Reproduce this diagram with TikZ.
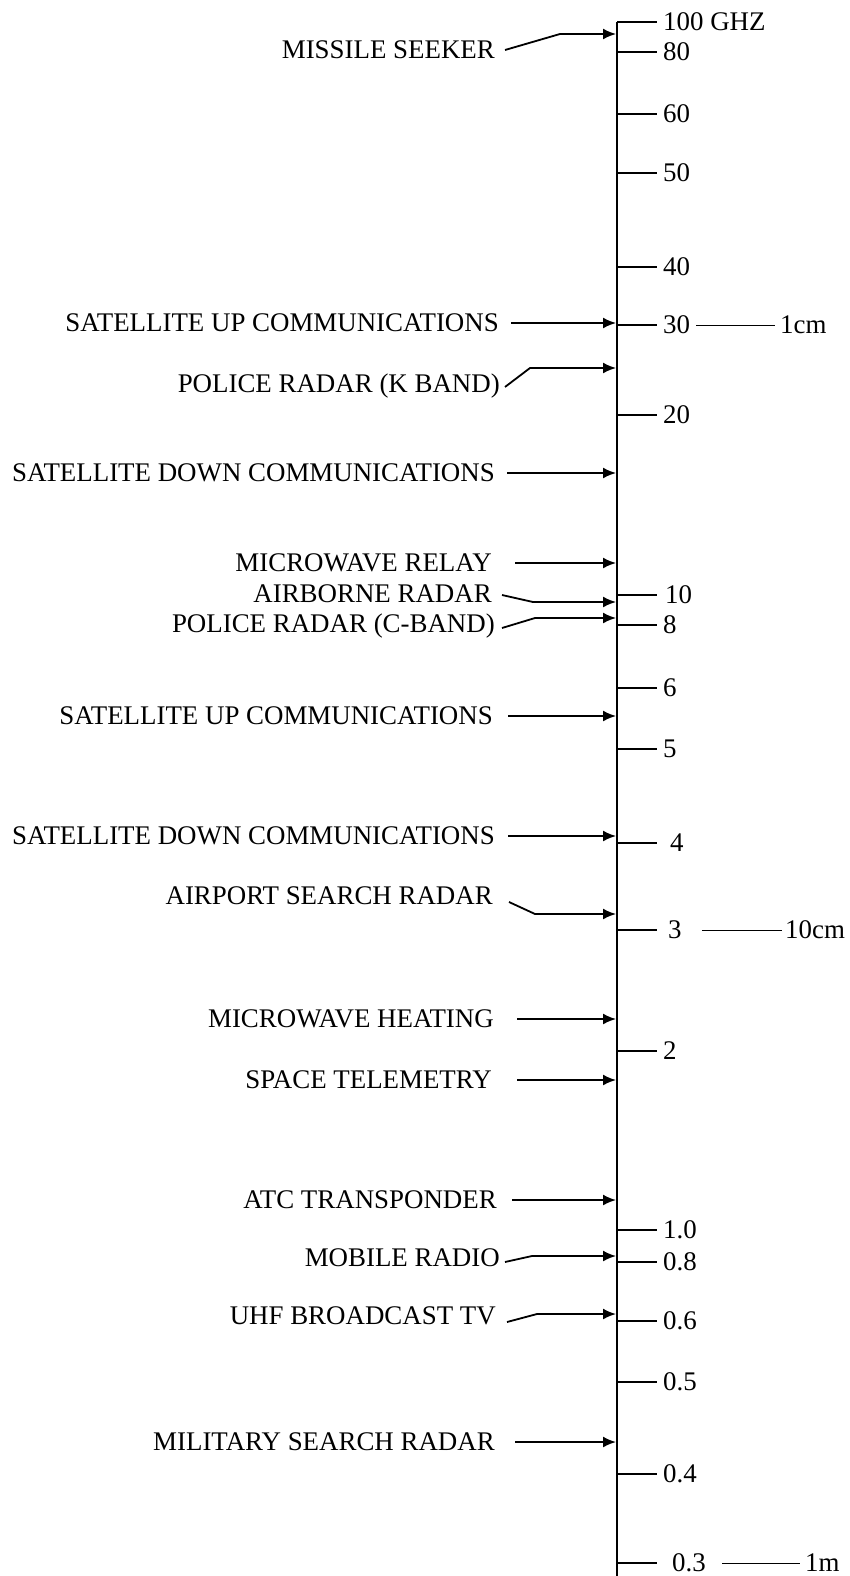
\documentclass[tikz,border=0pt]{standalone}
\usepackage{fontspec}
\setmainfont{Liberation Serif}
\usepackage{tikz}
\usetikzlibrary{arrows.meta}
\usetikzlibrary{positioning}

\begin{document}
\begin{tikzpicture}[
    x=1pt, y=-1pt,
    >={Latex[length=13pt, width=11pt]},
    lbl/.style={font=\fontsize{26.9}{30}\selectfont, inner sep=0pt,
                text height=17.8pt, text depth=0pt, anchor=east},
    num/.style={font=\fontsize{26.9}{30}\selectfont, inner sep=0pt,
                text height=17.8pt, text depth=0pt, anchor=west},
    feed/.style={->, draw=black, line width=1.8pt},
    tick/.style={draw=black, line width=1.6pt},
    unitline/.style={draw=black, line width=0.8pt}
]
\useasboundingbox (0,0) rectangle (849,1576);

% =========================================================================
% EIXO DE FREQUENCIA
% =========================================================================
\coordinate (axistop) at (617,22);
\coordinate (axisbot) at (617,1576);
\coordinate (tipline) at (616,0);
\draw[line width=2.4pt] (axistop) -- (axisbot);

% marcas e valores (y / texto / x do texto)
\foreach \y/\lab/\lx/\nm in {22/100 GHZ/663/f100, 52/80/663/f80, 114/60/663/f60,
    173/50/663/f50, 267/40/663/f40, 325/30/663/f30, 415/20/663/f20,
    595/10/665/f10, 625/8/663/f8, 688/6/663/f6, 749/5/663/f5,
    843/4/670/f4, 930/3/668/f3, 1051/2/663/f2, 1230/1.0/663/f1,
    1262/0.8/663/f08, 1321/0.6/663/f06, 1382/0.5/663/f05,
    1474/0.4/663/f04, 1563/0.3/672/f03}{
    \draw[tick] (617,\y) -- (657,\y);
    \node[num] (\nm) at (\lx,\y) {\lab};
}

% comprimentos de onda
\node[num] (cm1) at (780,325) {1cm};
\node[num] (cm10) at (785,930) {10cm};
\node[num] (m1) at (805,1563) {1m};
\draw[unitline] ([xshift=6pt]f30.east) -- ([xshift=-5pt]cm1.west);
\draw[unitline] ([xshift=20pt]f3.east) -- ([xshift=-3pt]cm10.west);
\draw[unitline] ([xshift=16pt]f03.east) -- ([xshift=-5pt]m1.west);

% =========================================================================
% APLICACOES
% =========================================================================
\node[lbl] (missile)   at (495,50)   {MISSILE SEEKER};
\node[lbl] (satupA)    at (499,323)  {SATELLITE UP COMMUNICATIONS};
\node[lbl] (kband)     at (500,384)  {POLICE RADAR (K BAND)};
\node[lbl] (satdownA)  at (495,473)  {SATELLITE DOWN COMMUNICATIONS};
\node[lbl] (relay)     at (492,563)  {MICROWAVE RELAY};
\node[lbl] (airborne)  at (492,594)  {AIRBORNE RADAR};
\node[lbl] (cband)     at (495,624)  {POLICE RADAR (C-BAND)};
\node[lbl] (satupB)    at (493,716)  {SATELLITE UP COMMUNICATIONS};
\node[lbl] (satdownB)  at (495,836)  {SATELLITE DOWN COMMUNICATIONS};
\node[lbl] (airport)   at (493,896)  {AIRPORT SEARCH RADAR};
\node[lbl] (heating)   at (494,1019) {MICROWAVE HEATING};
\node[lbl] (telemetry) at (492,1080) {SPACE TELEMETRY};
\node[lbl] (atc)       at (497,1200) {ATC TRANSPONDER};
\node[lbl] (mobile)    at (500,1258) {MOBILE RADIO};
\node[lbl] (uhf)       at (496,1316) {UHF BROADCAST TV};
\node[lbl] (military)  at (495,1442) {MILITARY SEARCH RADAR};

% setas retas
\draw[feed] ([xshift=12pt]satupA.east) -- (satupA.east -| tipline);
\draw[feed] ([xshift=12pt]satdownA.east) -- (satdownA.east -| tipline);
\draw[feed] ([xshift=23pt]relay.east) -- (relay.east -| tipline);
\draw[feed] ([xshift=15pt]satupB.east) -- (satupB.east -| tipline);
\draw[feed] ([xshift=13pt]satdownB.east) -- (satdownB.east -| tipline);
\draw[feed] ([xshift=23pt]heating.east) -- (heating.east -| tipline);
\draw[feed] ([xshift=25pt]telemetry.east) -- (telemetry.east -| tipline);
\draw[feed] ([xshift=15pt]atc.east) -- (atc.east -| tipline);
\draw[feed] ([xshift=20pt]military.east) -- (military.east -| tipline);

% setas com dobra
\draw[feed] ([xshift=10pt]missile.east) -- ++(55,-16) -- (tipline |- 0,34);
\draw[feed] ([xshift=5pt,yshift=-3pt]kband.east) -- ++(25,-19) -- (tipline |- 0,368);
\draw[feed] ([xshift=10pt,yshift=-1pt]airborne.east) -- ++(31,7) -- (tipline |- 0,602);
\draw[feed] ([xshift=7pt,yshift=-4pt]cband.east) -- ++(33,-10) -- (tipline |- 0,618);
\draw[feed] ([xshift=16pt,yshift=-6pt]airport.east) -- ++(26,12) -- (tipline |- 0,914);
\draw[feed] ([xshift=5pt,yshift=-4pt]mobile.east) -- ++(27,-6) -- (tipline |- 0,1256);
\draw[feed] ([xshift=11pt,yshift=-6pt]uhf.east) -- ++(30,-8) -- (tipline |- 0,1314);

\end{tikzpicture}
\end{document}
